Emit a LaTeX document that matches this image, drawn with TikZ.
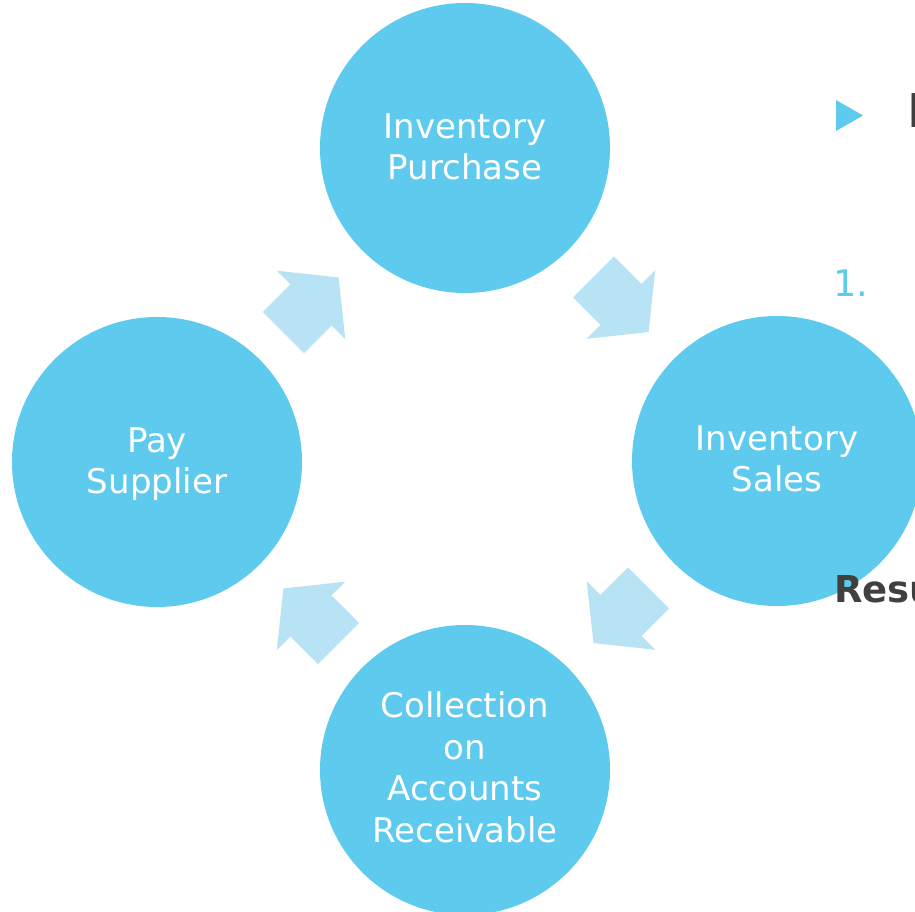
\documentclass[tikz,border=0pt]{standalone}
\usepackage{fontspec}
\usetikzlibrary{calc}
\newfontfamily\circfont{DejaVu Sans}
\newfontfamily\sidefont{DejaVu Sans}
\definecolor{discblue}{RGB}{93,202,238}
\definecolor{arrowblue}{RGB}{184,227,245}
\definecolor{bodygray}{RGB}{64,64,64}
% strut giving every line the same height and depth
\newcommand\lnstrut{\rule[-14pt]{0pt}{40pt}}
\tikzset{
  disc/.style={circle, fill=discblue, minimum size=290pt, inner sep=0pt},
  lbl/.style={text=white, align=center, inner sep=0pt,
              font=\circfont\fontsize{34}{41.5}\selectfont},
  side/.style={inner sep=0pt, anchor=base west},
  blockarrow/.pic={
    \fill[arrowblue] (-39,29) -- (0,29) -- (0,48.5) -- (39,0)
      -- (0,-48.5) -- (0,-29) -- (-39,-29) -- cycle;
  }
}
\begin{document}
\begin{tikzpicture}[x=1pt,y=1pt]
\useasboundingbox (0,0) rectangle (915,912);
\clip (0,0) rectangle (915,912);

% the four stages of the cycle
\node[disc] (top)    at (465,764) {};
\node[disc] (right)  at (777,451) {};
\node[disc] (bottom) at (465,142) {};
\node[disc] (left)   at (157,450) {};

% block arrows between consecutive stages
\pic[rotate=-45]  at ($(top)!0.5!(right)$)    {blockarrow};
\pic[rotate=-135] at ($(right)!0.5!(bottom)$) {blockarrow};
\pic[rotate=135]  at ($(bottom)!0.5!(left)$)  {blockarrow};
\pic[rotate=45]   at ($(left)!0.5!(top)$)     {blockarrow};

% stage labels
\node[lbl, yshift=-5pt] (toplbl)   at (top)   {\lnstrut Inventory\\\lnstrut Purchase};
\node[lbl, yshift=-4pt] (rightlbl) at (right) {\lnstrut Inventory\\\lnstrut Sales};
\node[lbl, yshift=-5pt] (leftlbl)  at (left)  {\lnstrut Pay\\\lnstrut Supplier};
\node[lbl, yshift=-4pt] (bottomlbl) at (bottom)
  {\lnstrut Collection\\\lnstrut on\\\lnstrut Accounts\\\lnstrut Receivable};

% text column on the right
\fill[discblue] (836,812) -- (863,796.5) -- (836,781) -- cycle;
\node[side, text=bodygray, font=\sidefont\fontsize{46.6}{50}\selectfont]
  (heading) at (907.5,784) {H};
\node[side, text=discblue, font=\sidefont\fontsize{36.6}{40}\selectfont]
  (item) at (833,615) {1.};
\node[side, text=bodygray, font=\sidefont\bfseries\fontsize{37}{40}\selectfont]
  (result) at (834,309) {Resu};
\end{tikzpicture}
\end{document}
